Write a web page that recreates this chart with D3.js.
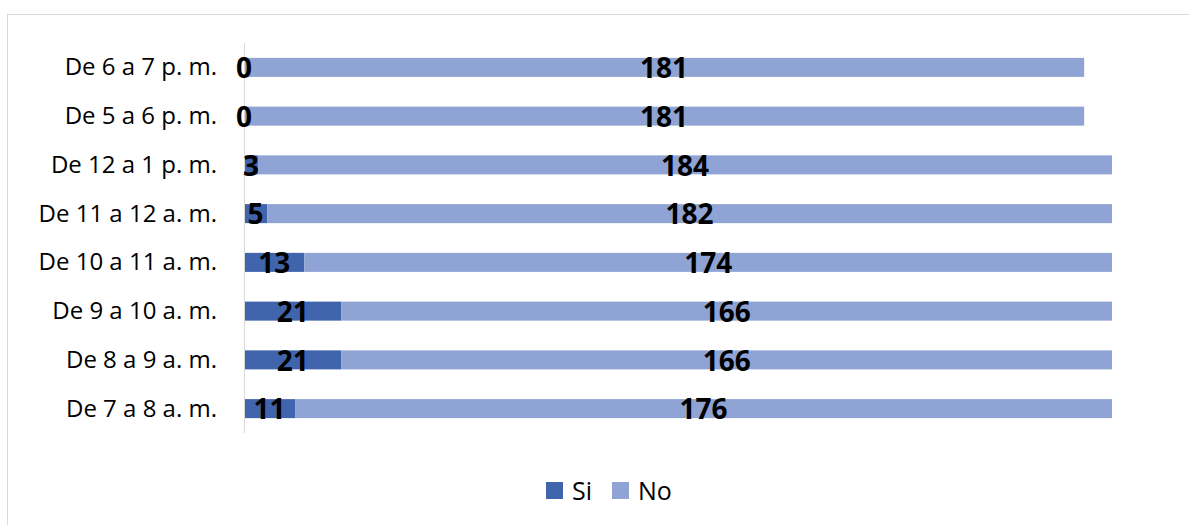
<!DOCTYPE html>
<html>
<head>
<meta charset="utf-8">
<title>Horario</title>
<style>
  body { margin: 0; background: #fff; }
  svg text { font-family: "Open Sans", "Liberation Sans", sans-serif; }
</style>
</head>
<body>
<div id="chart"></div>
<script src="https://d3js.org/d3.v7.min.js"></script>
<script>
// categories top to bottom
let categories = ["De 6 a 7 p. m.", "De 5 a 6 p. m.", "De 12 a 1 p. m.", "De 11 a 12 a. m.",
                  "De 10 a 11 a. m.", "De 9 a 10 a. m.", "De 8 a 9 a. m.", "De 7 a 8 a. m."];
let siValues = [0, 0, 3, 5, 13, 21, 21, 11];
let noValues = [181, 181, 184, 182, 174, 166, 166, 176];
let seriesNames = ["Si", "No"];
let colors = ["#4065ad", "#8fa4d4"];

let w = 1189, h = 525;
let svg = d3.select("#chart").append("svg")
    .attr("width", w)
    .attr("height", h);

// outer border
svg.append("rect")
    .attr("x", 7.5).attr("y", 14.5)
    .attr("width", 1200).attr("height", 520)
    .attr("fill", "none")
    .attr("stroke", "#d9d9d9");

let rows = categories.map((c, i) => ({cat: c, Si: siValues[i], No: noValues[i]}));
let stacked = d3.stack().keys(seriesNames)(rows);

let xScale = d3.scaleLinear()
    .domain([0, 187])
    .range([244, 1112]);

let yScale = d3.scaleBand()
    .domain(categories)
    .range([43, 433])
    .paddingInner(0.61)
    .paddingOuter(0.305);

// bars
svg.selectAll("g.series")
    .data(stacked)
    .enter()
    .append("g")
    .attr("class", "series")
    .attr("fill", (d, i) => colors[i])
    .selectAll("rect")
    .data(d => d)
    .enter()
    .append("rect")
    .attr("x", d => xScale(d[0]))
    .attr("y", d => yScale(d.data.cat))
    .attr("width", d => xScale(d[1]) - xScale(d[0]))
    .attr("height", yScale.bandwidth());

// y axis line
svg.append("line")
    .attr("x1", 244.5).attr("x2", 244.5)
    .attr("y1", 43).attr("y2", 433)
    .attr("stroke", "#d9d9d9");

// category labels
svg.selectAll("text.cat")
    .data(categories)
    .enter()
    .append("text")
    .attr("class", "cat")
    .attr("x", 217)
    .attr("y", d => yScale(d) + yScale.bandwidth() / 2)
    .attr("dy", "0.33em")
    .attr("text-anchor", "end")
    .attr("font-size", 24)
    .attr("fill", "#000")
    .text(d => d);

// value labels
stacked.forEach(s => {
    svg.selectAll("text.v" + s.key)
        .data(s)
        .enter()
        .append("text")
        .attr("class", "v" + s.key)
        .attr("x", d => xScale((d[0] + d[1]) / 2))
        .attr("y", d => yScale(d.data.cat) + yScale.bandwidth() / 2)
        .attr("dy", "0.38em")
        .attr("text-anchor", "middle")
        .attr("font-size", 28)
        .attr("font-weight", "bold")
        .attr("fill", "#000")
        .text(d => d.data[s.key]);
});

// legend
let legendX = [546, 612];
seriesNames.forEach((name, i) => {
    svg.append("rect")
        .attr("x", legendX[i]).attr("y", 482)
        .attr("width", 17).attr("height", 17)
        .attr("fill", colors[i]);
    svg.append("text")
        .attr("x", legendX[i] + 26)
        .attr("y", 491)
        .attr("dy", "0.35em")
        .attr("font-size", 25)
        .attr("fill", "#000")
        .text(name);
});
</script>
</body>
</html>
